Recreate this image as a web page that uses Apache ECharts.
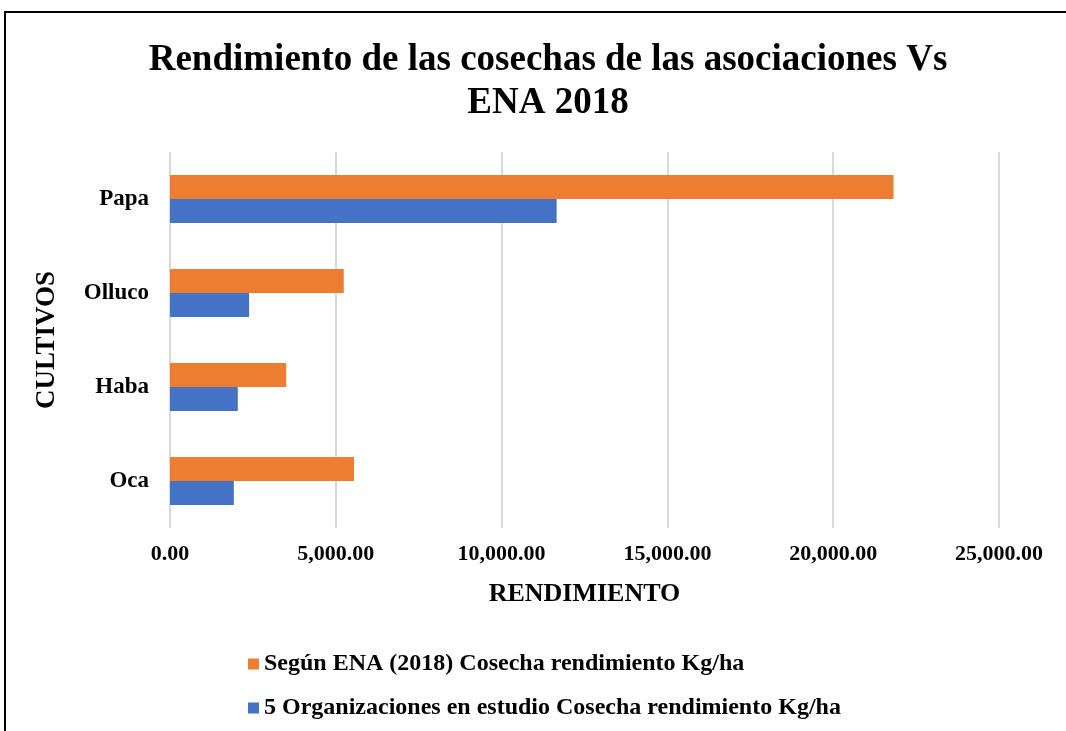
<!DOCTYPE html>
<html>
<head>
<meta charset="utf-8">
<script src="https://cdn.jsdelivr.net/npm/echarts@6/dist/echarts.min.js"></script>
<style>
  html, body { margin: 0; padding: 0; background: #fff; overflow: hidden; }
  #frame {
    position: absolute; left: 4px; top: 11px; width: 1080px; height: 740px;
    border: 2px solid #000; box-sizing: border-box;
  }
  #chart { position: absolute; left: 0; top: 0; width: 1066px; height: 731px; }
</style>
</head>
<body>
<div id="frame"></div>
<div id="chart"></div>
<script>
// data
const cultivos = ['Oca', 'Haba', 'Olluco', 'Papa']
const enaRendimiento = [5550, 3505, 5240, 21820]
const orgRendimiento = [1925, 2045, 2385, 11660]
const enaName = 'Según ENA (2018) Cosecha rendimiento Kg/ha'
const orgName = '5 Organizaciones en estudio Cosecha rendimiento Kg/ha'

const font = 'Liberation Serif'
const chart = echarts.init(document.getElementById('chart'))

chart.setOption({
  backgroundColor: 'transparent',
  animation: false,
  title: {
    text: 'Rendimiento de las cosechas de las asociaciones Vs\nENA 2018',
    left: 543,
    top: 34,
    textAlign: 'center',
    textStyle: { fontFamily: font, fontWeight: 'bold', fontSize: 37, color: '#000', lineHeight: 43 },
  },
  legend: {
    orient: 'vertical',
    left: 243,
    top: 647,
    itemWidth: 11,
    itemHeight: 11,
    itemGap: 20,
    icon: 'rect',
    data: [enaName, orgName],
    textStyle: { fontFamily: font, fontWeight: 'bold', fontSize: 24, color: '#000' },
  },
  grid: { left: 170, right: 67, top: 152, bottom: 203, containLabel: false },
  xAxis: {
    type: 'value',
    min: 0,
    max: 25000,
    interval: 5000,
    name: 'RENDIMIENTO',
    nameLocation: 'middle',
    nameGap: 53,
    nameTextStyle: { fontFamily: font, fontWeight: 'bold', fontSize: 26, color: '#000' },
    axisLine: { show: false },
    axisTick: { show: false },
    axisLabel: {
      margin: 15,
      fontFamily: font, fontWeight: 'bold', fontSize: 22, color: '#000',
      formatter: v => v.toLocaleString('en-US', { minimumFractionDigits: 2, maximumFractionDigits: 2 }),
    },
    splitLine: { lineStyle: { color: '#d9d9d9', width: 2 } },
  },
  yAxis: {
    type: 'category',
    data: cultivos,
    name: 'CULTIVOS',
    nameLocation: 'middle',
    nameRotate: 90,
    nameGap: 109,
    nameTextStyle: { fontFamily: font, fontWeight: 'bold', fontSize: 27, color: '#000' },
    axisLine: { show: false },
    axisTick: { show: false },
    axisLabel: { margin: 21, fontFamily: font, fontWeight: 'bold', fontSize: 23, color: '#000' },
  },
  series: [
    {
      name: enaName,
      type: 'bar',
      data: enaRendimiento,
      barWidth: 24,
      barGap: '0%',
      itemStyle: { color: '#ed7d31' },
    },
    {
      name: orgName,
      type: 'bar',
      data: orgRendimiento,
      barWidth: 24,
      barGap: '0%',
      itemStyle: { color: '#4472c4' },
    },
  ],
})
</script>
</body>
</html>
